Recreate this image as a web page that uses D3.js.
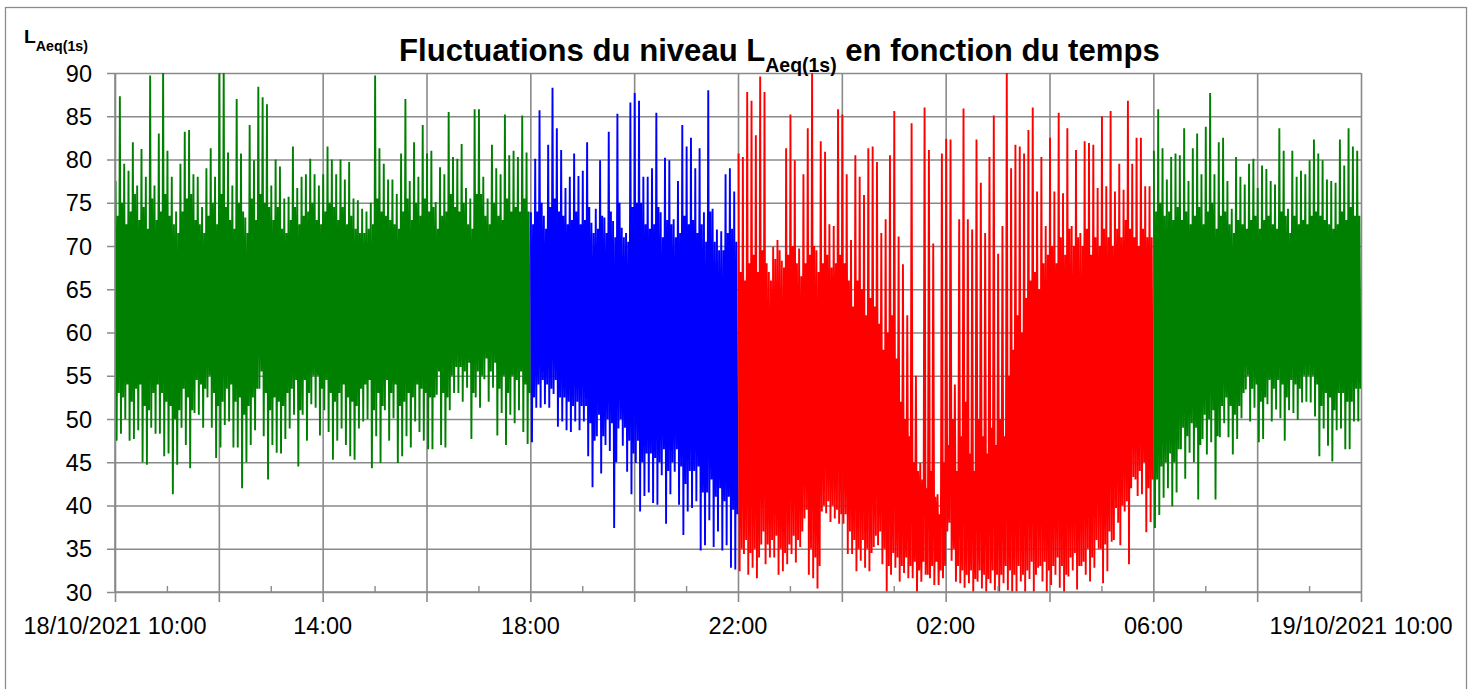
<!DOCTYPE html>
<html><head><meta charset="utf-8">
<script src="https://cdn.jsdelivr.net/npm/d3@7"></script>
<style>
body{margin:0;background:#fff}
svg{display:block}
text{font-family:"Liberation Sans",Arial,sans-serif;fill:#000}
</style>
</head><body>
<svg id="c" width="1480" height="689"></svg>
<script>
// ---------- DATA (per 5-minute bin) ----------
// hi / lo : highest and lowest peak of the bin
// up / dn : upper and lower edge of the dense band in the bin
const yTicks = [30,35,40,45,50,55,60,65,70,75,80,85,90];
const xLabels = ["18/10/2021 10:00","14:00","18:00","22:00","02:00","06:00","19/10/2021 10:00"];

// 10:00 - 18:00 (green)
const greenAmHi = [77.5,87.3,79.5,78.7,82,77,81.2,78,89.7,77,83,90.5,81,78,74,79.5,83.2,83.4,78.3,78,74.5,79,81.3,78,90.5,90.5,80.8,77,87,80.7,73.3,84,79.9,88.4,87.2,86.4,
  77,80,79.2,75.5,75.7,81.5,76.7,78,78.3,80.1,78.3,77,78.3,81.5,80,78.3,80,77.7,79.7,75.5,75.3,74.3,74,75,89.7,81.3,79.5,77.7,77.7,76,80.7,87,77.5,82,78,84,80.7,81,
  75.1,79.1,78.3,85.5,80.3,80.1,81.8,76.7,75.5,85.8,85.8,78,75.5,81.7,79,78.3,85.2,80.5,81,80.3,85.1,80.8];
const greenAmLo = [47.5,48.3,50,47.5,47.7,48.7,45,44.7,49,48.3,48.3,45.7,46,41.3,44.7,49,47,44.3,50.7,50.5,49,52.5,49,45.5,46.7,49.3,49.7,46.7,46.7,42,45,47,48.7,53.5,48,43,
  47,46.1,46,47.7,48.9,50.5,44.5,50.5,47.5,51.7,51.3,48.1,51,48.5,45.3,47.5,48.9,47,45.7,45.3,48.9,49.7,50,44.3,48,44.9,51,47.5,50.1,44.9,45.7,48,46.7,49.7,48.5,47.5,46.5,46.5,
  52.8,47,46.7,51,53,53,52,53.6,47.7,52.5,51.3,54.6,52,53.6,48.1,50.7,47,50.5,49.5,51,48.5,47.1];
const greenAmUp = [73.5,75,72.5,74,76,73,74.5,72,75.5,73,74,76,73.5,72.5,71.5,74,75.5,76,73,72.5,71.5,73.5,75,72.5,76,74.5,73,72,75,74,71.5,75.5,73,76,75,74.5,
  73,74.5,72,71.5,73,74.5,72.5,73.5,74,75,73,72.5,74,75,74.5,73,74.5,72.5,73.5,72,71.5,71.5,72,72.5,75.5,74,73.5,73,72.5,72,74,75.5,73,75,73.5,75.5,74,74.5,
  72,73.5,74,76,74.5,74,75,72.5,72,76,76,73.5,72.5,75,73.5,73,75.5,74,74.5,74,75.5,74];
const greenAmDn = [53,52.5,54,52,53.5,54,51.5,51,53,54,53,52,51.5,50,51,53.5,52.5,51,54.5,54,53.5,55,53,51.5,52,53.5,54,52,52.5,50.5,51.5,52.5,53.5,55.5,53,51,
  52.5,52,51.5,53,53.5,54.5,51,54.5,53,55,55,53.5,54.5,53,52,53,54,52.5,52,51.5,53.5,54,54.5,51,53,51.5,54.5,53,54,51.5,52,53,52.5,54,53.5,53,52.5,52.5,
  55.5,53,52.5,55,56,56,55.5,56.5,53,55.5,55,57,55.5,56.5,53.5,55,53,55,54.5,55.5,54,53];
// 18:00 - 22:00 (blue)
const blueHi = [73.9,80.1,85.7,73.5,81.7,88.3,83.6,81.1,76.7,78,80.7,78.1,78.7,82,72.7,74.3,
  79.9,73.3,83.2,72.9,85.3,72.1,71.5,86.6,87.7,86.8,78,78,79,85.4,73.9,80.2,79.9,73.1,77.5,84,81.5,82.5,79,81.3,73.9,88,74.3,71.9,71.7,78.3,79,76.3];
const blueLo = [47.3,51.3,51.3,51.7,51.3,52.9,49.1,49.7,48.7,48.5,49.7,48.7,49.7,45.7,42.1,48,
  43.7,47,46.3,37.4,48.9,46.9,43.9,41.3,44.9,39.3,41.1,41.5,40.3,40.1,43.5,37.9,41.3,43.9,40.1,36.6,39.3,39.7,40.5,34.8,35.4,38.3,35.2,37,34.8,35.4,32.8,32.6];
const blueUp = [72.5,74,75,72,74.5,75.5,74,73.5,72.5,73,74,72.5,73,74.5,71.5,72,
  73.5,71.5,74,71,75,71,70.5,74.5,75,75,72.5,72,72.5,74.5,71,73,72.5,71,71.5,73.5,72.5,73,71.5,72.5,70.5,74,70.5,69.5,69.5,71.5,72,70.5];
const blueDn = [52.5,54,54.5,54,53.5,54.5,52.5,52.5,52,51.5,52,51.5,51.5,49.5,47.5,50.5,
  48,50,49.5,45,50,49,47.5,46,47.5,45,46,46,45.5,45,46.5,44,45,46.5,44.5,42.5,44,44,44.5,41.5,41.5,43,41,42,40.5,41,39.5,39];
// 22:00 - 06:00 (red)
const redHi = [80.7,80.3,87.8,86.8,82.8,89.6,87.8,67,69.9,70.7,68.3,81.3,85.2,79.9,69.7,78.3,83.6,90.5,69.5,82.1,80.9,72.5,72.3,85.8,
  85.2,78.3,70.7,80.5,78,75.9,81.3,81.5,79.7,71.5,73.1,80.5,85.6,71.1,67.9,62,84.2,55,44.9,86,81.1,70.3,41.3,80.7,
  82.4,82.3,54,73.1,85.9,73.1,71.9,82.3,77.3,71.5,80.3,85.1,69.1,72.3,90.5,79,81.7,81.5,80.7,83.4,86,76.3,80.3,72.3,
  82.5,76.3,85.4,76.1,83.6,72.3,81.1,71.5,82.1,81.9,81.7,76.7,85,76.9,85.6,76.3,79.5,76.5,86.8,79.5,82.5,82.5,76.9,76.9];
const redLo = [32.4,34.4,32,32.8,31.6,35.5,33.2,34,34,32,32.4,33.2,34.4,33.4,35.2,38.5,32,31.6,30.4,39.3,39.1,38.1,38.5,37.9,
  37.9,34.4,34.4,32.4,33.6,32.8,32.4,35.2,35.4,33.2,30,32,32.8,31.2,32.2,31.6,31.6,30,31.2,32,31.6,30.8,30.8,31.6,
  37,33.6,31.2,31,30.5,31,30,31.2,30.4,30,31,30.2,30,31,30.2,30,30,31.2,30,31.5,30,32.8,31.2,30,
  30.8,32,30.5,30,31.8,32.5,30.3,33,32,31.2,32.8,35,31,32.4,35.8,39.7,35.4,39.3,33.2,43.3,41.1,41.3,36.9,38.1];
const redUp = [67,66,68,69,67,69.5,68,66,68.5,69.5,67.5,69,70,68,66.5,68,69,70,67,68,69,67.5,68,69,
  68,66,63,66,65,62,64,63,61,58,60,62,57,52,50,48,45,44,43,42,44,41,39,45,
  47,50,44,48,52,46,44,50,48,46,49,47,50,48,55,58,62,60,64,66,67,65,68,69,
  70,68,71,69,72,70,71,70,72,69,71,70,72,71,70,72,71,73,72,71,70,72,71,71];
const redDn = [35,36,34.5,35,34,37,35.5,36,36.5,35,34.5,35.5,36.5,36,37,39.5,35,34,33,40,40.5,40,39.5,39,
  39,37,36,35,36,35,34.5,36.5,37,35,33,34.5,34,33,34,33,33.5,32.5,33.5,32,33,33.5,32.5,33,
  38,35,33,32.5,32,32.5,31.5,32.5,32,31.5,32.5,32,32,33,32.5,32,33,32,32.5,33.5,32,33,33.5,32.5,
  33,34,33,32,34,34.5,33,33.5,35,34,36,35,35.5,37,36,38,40,40.5,42,43,44,45,42,43];
// 06:00 - 10:00 (green)
const greenPmHi = [81,85.8,81.3,77.7,80.3,80.7,80.5,83.6,77.5,81.3,83,78.3,83.8,87.7,78.3,82,82.5,77.5,74.3,80.3,78,77.1,79.5,80.1,
  76.7,79.3,78.9,77.5,77.1,83.6,81,74.3,81,78,78.7,78.3,79.9,82.3,80.7,79.9,77.7,77.5,77.3,82.3,79.3,83.6,81.5,81];
const greenPmLo = [37.4,38.9,40.9,42,39.9,41.5,46.5,43.1,46.1,45,40.7,47.7,45.9,47.3,40.7,47.9,49.5,47.9,45.9,47.7,50.1,53.4,49.7,51.3,
  47.3,47.7,51.7,49.7,51.1,50.1,47.5,51,50.7,49.9,51.9,52,51.9,50.3,45.7,48.9,46.9,45.1,48.7,48.9,46.5,46.5,49.7,49.7];
const greenPmUp = [74,75,73.5,74,73,74.5,73,74,72.5,73.5,74.5,72.5,74,75,72,73.5,74,72.5,71.5,73,72.5,72,73,73.5,
  72,73,73.5,72.5,72,74,73.5,71.5,73.5,72.5,73,72.5,73.5,74,73.5,73,72.5,72,72.5,74,73,74.5,73.5,73.5];
const greenPmDn = [43,44.5,45,46,45,46.5,49,48,49.5,49,47,50.5,50,51,48,51.5,52.5,51.5,50.5,51.5,53,55,53.5,54,
  52,52.5,54.5,53.5,54.5,54,52.5,54.5,54,53.5,55,55,55,54,51.5,53,52.5,51,53,53,52,52,53.5,53.5];

// ---------- CHART ----------
const HOUR = 3600e3, BIN = 5*60e3;
const T0 = Date.UTC(2021,9,18,10,0,0);
const L = 115, R = 1361, TOP = 73, BOT = 592;
const svg = d3.select("#c");
const x = d3.scaleUtc().domain([new Date(T0), new Date(T0+24*HOUR)]).range([L,R]);
const y = d3.scaleLinear().domain([30,90]).range([BOT,TOP]);
const GRID = "#8a8a8a";

svg.append("rect").attr("x",0).attr("y",0).attr("width",1480).attr("height",689).attr("fill","#fff");
svg.append("rect").attr("x",5.5).attr("y",7.5).attr("width",1461).attr("height",700)
  .attr("fill","none").attr("stroke","#8c8c8c").attr("stroke-width",1.3);

// horizontal gridlines + y tick marks
const gy = svg.append("g").attr("transform",`translate(${L},0)`)
  .call(d3.axisLeft(y).tickValues(yTicks).tickSize(-(R-L)).tickFormat(""));
gy.select(".domain").remove();
gy.selectAll(".tick line").attr("stroke",GRID).attr("stroke-width",1.6).attr("x1",-8);

// vertical gridlines every 2 hours (+ tick marks below the axis)
const majors = d3.range(0,25,2).map(h=>new Date(T0+h*HOUR));
const minors = d3.range(1,24,2).map(h=>new Date(T0+h*HOUR));
const gx = svg.append("g").attr("transform",`translate(0,${BOT})`)
  .call(d3.axisBottom(x).tickValues(majors).tickSize(-(BOT-TOP)).tickFormat(""));
gx.select(".domain").remove();
gx.selectAll(".tick line").attr("stroke",GRID).attr("stroke-width",1.6).attr("y2",-(BOT-TOP)).attr("y1",10);

// series
svg.append("defs").append("clipPath").attr("id","pc").append("rect")
  .attr("x",L).attr("y",TOP).attr("width",R-L).attr("height",BOT-TOP);
const plot = svg.append("g").attr("clip-path","url(#pc)");

const sections = [
  {start:0,  hi:greenAmHi, lo:greenAmLo, up:greenAmUp, dn:greenAmDn, color:"#008000"},
  {start:8,  hi:blueHi, lo:blueLo, up:blueUp, dn:blueDn, color:"#0000ff"},
  {start:12, hi:redHi, lo:redLo, up:redUp, dn:redDn, color:"#ff0000"},
  {start:20, hi:greenPmHi, lo:greenPmLo, up:greenPmUp, dn:greenPmDn, color:"#008000"}
];
const line = d3.line().x(d=>x(new Date(d[0]))).y(d=>y(d[1]));
sections.forEach(s=>{
  const s0 = T0 + s.start*HOUR;
  const pts = [];
  s.hi.forEach((v,k)=>{
    const b = s0 + k*BIN;
    pts.push([b + BIN*0.125, v]);
    pts.push([b + BIN*0.375, s.lo[k]]);
    pts.push([b + BIN*0.625, s.up[k]]);
    pts.push([b + BIN*0.875, s.dn[k]]);
  });
  plot.append("path").attr("d",line(pts)).attr("fill","none")
    .attr("stroke",s.color).attr("stroke-width",1.9).attr("stroke-linejoin","bevel");
});

// x axis line, left axis line, minor ticks
svg.append("line").attr("x1",L).attr("x2",R).attr("y1",BOT).attr("y2",BOT).attr("stroke",GRID).attr("stroke-width",1.6);
svg.append("line").attr("x1",L).attr("x2",L).attr("y1",TOP).attr("y2",BOT).attr("stroke",GRID).attr("stroke-width",1.6);
const gm = svg.append("g").attr("transform",`translate(0,${BOT})`)
  .call(d3.axisBottom(x).tickValues(minors).tickSize(-6).tickFormat(""));
gm.select(".domain").remove();
gm.selectAll(".tick line").attr("stroke",GRID).attr("stroke-width",1.4);

// y labels
svg.append("g").selectAll("text").data(yTicks).join("text")
  .attr("x",92).attr("y",d=>y(d)+8.5).attr("text-anchor","end")
  .style("font-size","23.5px").text(d=>d);

// x labels every 4 hours
const labTimes = d3.range(0,25,4).map(h=>new Date(T0+h*HOUR));
svg.append("g").selectAll("text").data(labTimes).join("text")
  .attr("x",d=>x(d)).attr("y",634).attr("text-anchor","middle")
  .style("font-size","23.5px").text((d,i)=>xLabels[i]);

// helper: fit a text group horizontally
function fitText(g, x0, baseline, width){
  const w = g.node().getBBox().width;
  g.attr("transform",`translate(${x0},${baseline}) scale(${width/w},1)`);
}

// title
const tg = svg.append("g");
const tt = tg.append("text").attr("x",0).attr("y",0).style("font-weight","bold").style("font-size","32px");
tt.append("tspan").text("Fluctuations du niveau L");
tt.append("tspan").attr("dy",11).style("font-size","20px").text("Aeq(1s)");
tt.append("tspan").attr("dy",-11).text(" en fonction du temps");
fitText(tg, 399, 61, 761);

// y axis title
const ag = svg.append("g");
const at = ag.append("text").attr("x",0).attr("y",0).style("font-weight","bold").style("font-size","19px");
at.append("tspan").text("L");
at.append("tspan").attr("dy",7.5).style("font-size","14px").text("Aeq(1s)");
fitText(ag, 24, 43, 64);
</script>
</body></html>
